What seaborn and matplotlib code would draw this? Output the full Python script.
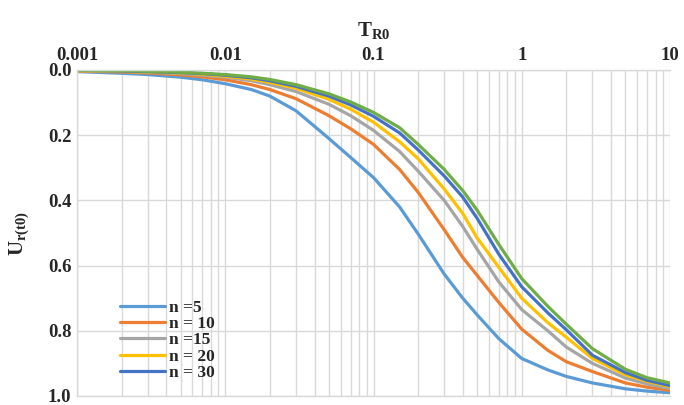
import numpy as np
import pandas as pd
import matplotlib
matplotlib.use("Agg")
import matplotlib.pyplot as plt
import seaborn as sns
from matplotlib.ticker import FixedLocator, FuncFormatter, LogLocator, NullFormatter

# ---- data ----
T_values = [0.001, 0.002, 0.003, 0.005, 0.007, 0.01, 0.015, 0.02, 0.03, 0.05, 0.07, 0.1,
            0.15, 0.2, 0.3, 0.4, 0.5, 0.7, 1, 1.5, 2, 3, 5, 7, 10]
U_n5  = [0.005, 0.010, 0.014, 0.022, 0.030, 0.042, 0.060, 0.080, 0.125, 0.210, 0.268, 0.330,
         0.420, 0.503, 0.626, 0.700, 0.751, 0.824, 0.885, 0.920, 0.940, 0.960, 0.978, 0.985, 0.990]
U_n10 = [0.003, 0.006, 0.009, 0.015, 0.021, 0.030, 0.045, 0.060, 0.088, 0.140, 0.180, 0.228,
         0.305, 0.375, 0.490, 0.575, 0.630, 0.713, 0.795, 0.860, 0.895, 0.925, 0.960, 0.973, 0.983]
U_n15 = [0.002, 0.004, 0.007, 0.011, 0.016, 0.022, 0.033, 0.045, 0.066, 0.105, 0.140, 0.185,
         0.250, 0.310, 0.400, 0.480, 0.550, 0.650, 0.735, 0.800, 0.850, 0.900, 0.945, 0.963, 0.977]
U_n20 = [0.002, 0.004, 0.006, 0.009, 0.013, 0.019, 0.028, 0.038, 0.056, 0.090, 0.120, 0.160,
         0.220, 0.272, 0.365, 0.440, 0.515, 0.605, 0.700, 0.775, 0.820, 0.885, 0.935, 0.955, 0.971]
U_n30 = [0.001, 0.003, 0.005, 0.008, 0.011, 0.016, 0.024, 0.033, 0.050, 0.080, 0.107, 0.142,
         0.193, 0.245, 0.325, 0.390, 0.455, 0.565, 0.665, 0.745, 0.797, 0.875, 0.928, 0.952, 0.968]
U_n50 = [0.001, 0.002, 0.004, 0.007, 0.010, 0.014, 0.021, 0.029, 0.045, 0.073, 0.098, 0.130,
         0.177, 0.228, 0.305, 0.370, 0.430, 0.535, 0.640, 0.725, 0.780, 0.855, 0.918, 0.944, 0.960]
series_labels = ["n =5", "n = 10", "n =15", "n = 20", "n = 30", "n = 50"]
series_values = [U_n5, U_n10, U_n15, U_n20, U_n30, U_n50]
legend_count = 5
colors = ["#5B9BD5", "#ED7D31", "#A5A5A5", "#FFC000", "#4472C4", "#70AD47"]
y_ticks = [0.0, 0.2, 0.4, 0.6, 0.8, 1.0]
x_ticks = [0.001, 0.01, 0.1, 1, 10]
x_ticklabels = ["0.001", "0.01", "0.1", "1", "10"]

rows = []
for lab, vals in zip(series_labels, series_values):
    for t, u in zip(T_values, vals):
        rows.append({"T": t, "U": u, "n": lab})
df = pd.DataFrame(rows)

sns.set_theme(style="white")
plt.rcParams["font.family"] = ["Liberation Serif", "DejaVu Serif"]
plt.rcParams["font.weight"] = "bold"
plt.rcParams["mathtext.fontset"] = "custom"
plt.rcParams["mathtext.rm"] = "Liberation Serif:bold"
plt.rcParams["mathtext.bf"] = "Liberation Serif:bold"
plt.rcParams["mathtext.it"] = "Liberation Serif:bold"

W, H = 684, 405
fig = plt.figure(figsize=(W / 100, H / 100), dpi=100)
left_px, right_px, top_px, bottom_px = 77, 670, 70, 396
ax = fig.add_axes([left_px / W, 1 - bottom_px / H, (right_px - left_px) / W, (bottom_px - top_px) / H])

grid_c = "#D9D9D9"
ax.set_xscale("log")
ax.set_xlim(0.001, 10)
ax.set_ylim(1.0, 0.0)
ax.xaxis.set_major_locator(FixedLocator(x_ticks))
ax.xaxis.set_minor_locator(LogLocator(base=10, subs=np.arange(2, 10)))
ax.xaxis.set_minor_formatter(NullFormatter())
ax.yaxis.set_major_locator(FixedLocator(y_ticks))
ax.yaxis.set_major_formatter(FuncFormatter(lambda v, p: f"{v:.1f}"))
ax.grid(True, which="major", axis="both", color=grid_c, lw=1.0)
ax.grid(True, which="minor", axis="x", color=grid_c, lw=1.0)
ax.set_axisbelow(True)

sns.lineplot(data=df, x="T", y="U", hue="n", hue_order=series_labels,
             palette=colors, linewidth=2.3, legend=False, ax=ax, sort=True)

ax.xaxis.tick_top()
ax.set_xticklabels(x_ticklabels)
ax.tick_params(axis="both", which="both", length=0, labelsize=13.5, pad=4)
for lab in ax.get_xticklabels() + ax.get_yticklabels():
    lab.set_fontweight("bold")

for s in ["top", "left", "bottom"]:
    ax.spines[s].set_color(grid_c)
    ax.spines[s].set_linewidth(1.0)
ax.spines["right"].set_visible(False)

ax.set_xlabel(r"$\mathbf{T_{R0}}$", fontsize=15, labelpad=8)
ax.xaxis.set_label_position("top")
ax.set_ylabel(r"$\mathbf{U_{r(t0)}}$", fontsize=15, labelpad=12)

handles = ax.get_lines()[:legend_count]
leg = ax.legend(handles, series_labels[:legend_count], loc="upper left",
                bbox_to_anchor=(120 / W, 1 - 300 / H), bbox_transform=fig.transFigure,
                frameon=False, fontsize=12.5, handlelength=2.6, handletextpad=0.2,
                labelspacing=0.0, borderpad=0, borderaxespad=0)
for t in leg.get_texts():
    t.set_fontweight("bold")

fig.savefig("out.png", dpi=100)
